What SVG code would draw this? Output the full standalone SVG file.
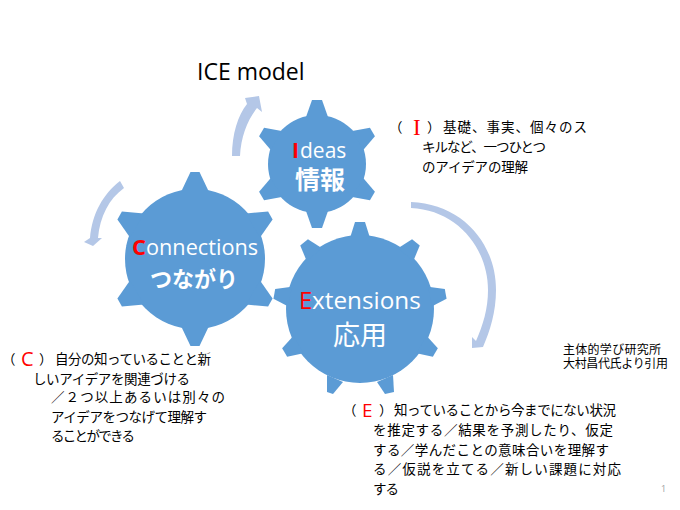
<svg xmlns="http://www.w3.org/2000/svg" width="680" height="510" viewBox="0 0 680 510">
<style>
text{font-family:"Open Sans","Noto Sans CJK JP",sans-serif}
.b{font-family:"Noto Sans CJK JP",sans-serif;font-size:13.5px;fill:#000}
.s{font-size:12px}
.k{font-family:"Noto Sans CJK JP",sans-serif;fill:#fff}
.w{fill:#fff}
.r{fill:#f00}
.g{fill:#5b9bd5}
.a{fill:#b4c7e7}
</style>
<rect width="680" height="510" fill="#fff"/>
<g id="connectors">
<path class="a" d="M232 156C232 134 238 115 247 104L245 98L259 96L262 112L257 108C247 121 241 137 240 156Z"/>
<path class="a" d="M120 181L124 188C109 199 100 216 98 238L102 238L93 246L84 242L90 238C92 214 103 194 120 181Z"/>
<path class="a" d="M411 202C462 204 496 243 496 290C496 312 490 331 483 347L472 348L472 337L476 341C483 325 488 309 488 290C488 248 457 210 411 208Z"/>
</g>
<g id="node-ideas">
<circle class="g" cx="317" cy="164" r="49"/>
<g class="g">
<polygon points="-11,-47 -5,-64 5,-64 11,-47" transform="translate(317 164)"/>
<polygon points="-11,-47 -5,-64 5,-64 11,-47" transform="translate(317 164) rotate(60)"/>
<polygon points="-11,-47 -5,-64 5,-64 11,-47" transform="translate(317 164) rotate(120)"/>
<polygon points="-11,-47 -5,-64 5,-64 11,-47" transform="translate(317 164) rotate(180)"/>
<polygon points="-11,-47 -5,-64 5,-64 11,-47" transform="translate(317 164) rotate(240)"/>
<polygon points="-11,-47 -5,-64 5,-64 11,-47" transform="translate(317 164) rotate(300)"/>
</g>
<text x="292" y="158" font-size="21" font-weight="700" class="r">I</text>
<text x="300" y="158" font-size="21" class="w">deas</text>
<text class="k" x="320" y="189" font-size="25" font-weight="700" text-anchor="middle">情報</text>
</g>
<g id="node-connections">
<circle class="g" cx="195" cy="259" r="70"/>
<g class="g">
<polygon points="-14,-67 -4.5,-87 4.5,-87 14,-67" transform="translate(195 259)"/>
<polygon points="-14,-67 -4.5,-87 4.5,-87 14,-67" transform="translate(195 259) rotate(60)"/>
<polygon points="-14,-67 -4.5,-87 4.5,-87 14,-67" transform="translate(195 259) rotate(120)"/>
<polygon points="-14,-67 -4.5,-87 4.5,-87 14,-67" transform="translate(195 259) rotate(180)"/>
<polygon points="-14,-67 -4.5,-87 4.5,-87 14,-67" transform="translate(195 259) rotate(240)"/>
<polygon points="-14,-67 -4.5,-87 4.5,-87 14,-67" transform="translate(195 259) rotate(300)"/>
</g>
<text x="132" y="255" font-size="22" font-weight="700" class="r">C</text>
<text x="146" y="255" font-size="21.7" class="w">onnections</text>
<text class="k" x="194" y="287" font-size="22" font-weight="700" text-anchor="middle">つながり</text>
</g>
<g id="node-extensions">
<circle class="g" cx="360" cy="309" r="74"/>
<g class="g">
<polygon points="-10,-71 -5,-87 5,-87 10,-71" transform="translate(360 309)"/>
<polygon points="-10,-71 -5,-87 5,-87 10,-71" transform="translate(360 309) rotate(40)"/>
<polygon points="-10,-71 -5,-87 5,-87 10,-71" transform="translate(360 309) rotate(80)"/>
<polygon points="-10,-71 -5,-87 5,-87 10,-71" transform="translate(360 309) rotate(120)"/>
<polygon points="327,375 327,392 333,394 343,382"/>
<polygon points="393,375 394,392 385,394 377,382"/>
<polygon points="-10,-71 -5,-87 5,-87 10,-71" transform="translate(360 309) rotate(240)"/>
<polygon points="-10,-71 -5,-87 5,-87 10,-71" transform="translate(360 309) rotate(280)"/>
<polygon points="-10,-71 -5,-87 5,-87 10,-71" transform="translate(360 309) rotate(320)"/>
</g>
<text x="299" y="309" font-size="24" class="r">E</text>
<text x="312" y="309" font-size="24.3" class="w">xtensions</text>
<text class="k" x="360" y="345" font-size="27" text-anchor="middle">応用</text>
</g>
<g id="labels">
<text x="197" y="80" font-size="23" fill="#000">ICE model</text>
<text class="b" x="389" y="132">（</text>
<text x="413" y="135" class="r" style="font-family:'Liberation Serif',serif;font-size:23px">I</text>
<text class="b" x="427" y="132">）</text>
<text class="b" x="443" y="132" textLength="144">基礎、事実、個々のス</text>
<text class="b" x="422" y="152" textLength="124">キルなど、一つひとつ</text>
<text class="b" x="422" y="172" textLength="106">のアイデアの理解</text>
<text class="b" x="2" y="364">（</text>
<text x="21" y="366" font-size="20" class="r">C</text>
<text class="b" x="39" y="364">）</text>
<text class="b" x="55" y="364" textLength="156">自分の知っていることと新</text>
<text class="b" x="33" y="384" textLength="157">しいアイデアを関連づける</text>
<text class="b" x="51" y="402" textLength="174">／２つ以上あるいは別々の</text>
<text class="b" x="51" y="422" textLength="156">アイデアをつなげて理解す</text>
<text class="b" x="51" y="441" textLength="84">ることができる</text>
<text class="b" x="343" y="415">（</text>
<text x="362" y="417" font-size="19" class="r">E</text>
<text class="b" x="379" y="415">）</text>
<text class="b" x="394" y="415" textLength="222">知っていることから今までにない状況</text>
<text class="b" x="373" y="435" textLength="240">を推定する／結果を予測したり、仮定</text>
<text class="b" x="373" y="455" textLength="236">する／学んだことの意味合いを理解す</text>
<text class="b" x="373" y="474" textLength="248">る／仮説を立てる／新しい課題に対応</text>
<text class="b" x="373" y="494" textLength="26">する</text>
<text class="b s" x="563" y="354" textLength="98">主体的学び研究所</text>
<text class="b s" x="563" y="368" textLength="105">大村昌代氏より引用</text>
<text x="661" y="492" font-size="9" fill="#a0a0a0">1</text>
</g>
</svg>
